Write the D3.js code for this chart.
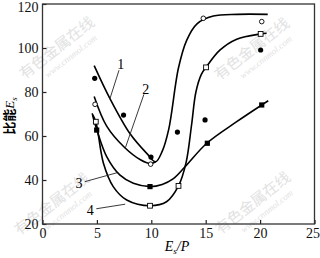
<!DOCTYPE html>
<html lang="zh">
<head>
<meta charset="utf-8">
<script src="https://d3js.org/d3.v7.min.js"></script>
<style>
  body { margin: 0; background: #fff; }
</style>
</head>
<body>
<div id="chart"></div>
<script>
// x / y tick values
const xTicks = [0, 5, 10, 15, 20, 25];
const yTicks = [20, 40, 60, 80, 100, 120];

// fitted curves as [Es/P, specific energy]
const curve1 = [[4.75, 92], [6.2, 77], [8.05, 61], [9.6, 52], [10.4, 48.3], [11.0, 53], [11.6, 63],
                [12.5, 91], [13.25, 103.5], [14.2, 111], [15.7, 114.5], [17.9, 115.3], [20.7, 115.3]];
const curve2 = [[4.75, 78], [5.9, 64.5], [7.5, 55], [9.0, 49.2], [9.9, 47.5], [10.4, 48.3]];
const curve3 = [[4.6, 69.5], [5.0, 62.7], [5.9, 50.6], [7.1, 42.3], [8.35, 38.5], [9.9, 37], [11.0, 38],
                [12.0, 40.5], [13.1, 46], [15.1, 56.7], [17.85, 66.5], [20.15, 74.1], [20.75, 76]];
const curve4 = [[4.55, 70.3], [4.9, 66.5], [5.6, 47.6], [6.5, 37], [7.74, 30.9], [9.9, 28.3], [11.4, 30.1],
                [12.5, 37.3], [13.2, 48], [13.7, 65], [14.1, 80], [14.6, 88], [15.03, 91.2], [16.3, 99],
                [17.85, 104], [20.05, 106.4], [20.6, 106.7]];

// measured points
const filledCircles = [[4.8, 86.2], [7.45, 69.5], [9.97, 50.4], [12.4, 61.8], [14.94, 67.3], [20.05, 99.1]];
const openCircles   = [[4.83, 74.4], [9.94, 47.2], [14.78, 113.5], [20.15, 112]];
const filledSquares = [[4.98, 62.7], [9.88, 37], [15.15, 56.7], [20.15, 74.1]];
const openSquares   = [[4.9, 66.5], [9.88, 28.3], [12.5, 37.3], [15.03, 91.2], [20.05, 106.4]];

// curve labels: [label, label x, label y, leader end x, leader end y] in data units
const curveLabels = [["1", 7.2, 92.5, 6.2, 77], ["2", 9.5, 81.5, 7.6, 54.4],
                     ["3", 3.35, 38.5, 6.85, 43.3], ["4", 4.4, 26.5, 7.6, 29]];

const svgWidth = 320, svgHeight = 258;
const margin = {top: 4, right: 5.5, bottom: 34, left: 42.5};
const width = svgWidth - margin.left - margin.right;
const height = svgHeight - margin.top - margin.bottom;

const svg = d3.select("#chart").append("svg")
    .attr("width", svgWidth)
    .attr("height", svgHeight);

// faint site watermark
const marks = [[60, 52], [255, 53], [55, 208], [256, 207]];
marks.forEach(function (m) {
  const wm = svg.append("g")
      .attr("transform", "translate(" + m[0] + "," + m[1] + ") rotate(-38)")
      .attr("fill", "#e2e2e2");
  wm.append("text").attr("text-anchor", "middle").attr("y", 0)
      .attr("font-family", "Noto Sans CJK SC").attr("font-size", "15px").text("有色金属在线");
  wm.append("text").attr("text-anchor", "middle").attr("x", 6).attr("y", 13)
      .attr("font-family", "Liberation Serif").attr("font-size", "9px").attr("font-style", "italic")
      .text("www.cnnmol.com");
});

const g = svg.append("g").attr("transform", "translate(" + margin.left + "," + margin.top + ")");

const x = d3.scaleLinear().domain([0, 25]).range([0, width]);
const y = d3.scaleLinear().domain([20, 120]).range([height, 0]);

const xAxis = g.append("g")
    .attr("transform", "translate(0," + height + ")")
    .call(d3.axisBottom(x).tickValues(xTicks).tickSizeInner(-4).tickSizeOuter(0).tickPadding(4));
const yAxis = g.append("g")
    .call(d3.axisLeft(y).tickValues(yTicks).tickSizeInner(-4).tickSizeOuter(0).tickPadding(4));

[xAxis, yAxis].forEach(function (a) {
  a.select(".domain").remove();
  a.selectAll("line").attr("stroke", "#222").attr("stroke-width", 1.2);
  a.selectAll("text")
      .attr("font-family", "Liberation Serif")
      .attr("font-size", "14px")
      .attr("fill", "#111");
});
// keep the end labels inside the window
xAxis.selectAll(".tick text").filter(d => d === 25).attr("dx", -2);
yAxis.selectAll(".tick text").filter(d => d === 120).attr("dy", "0.5em");

g.append("rect")
    .attr("x", 0).attr("y", 0)
    .attr("width", width).attr("height", height)
    .attr("fill", "none")
    .attr("stroke", "#333")
    .attr("stroke-width", 1.3);

const line = d3.line()
    .x(d => x(d[0]))
    .y(d => y(d[1]))
    .curve(d3.curveCatmullRom.alpha(0.5));

[curve1, curve2, curve3, curve4].forEach(function (c) {
  g.append("path")
      .datum(c)
      .attr("d", line)
      .attr("fill", "none")
      .attr("stroke", "#000")
      .attr("stroke-width", 1.6);
});

// leader lines and numbers
curveLabels.forEach(function (l) {
  const lx = x(l[1]), ly = y(l[2]);
  const dx = x(l[3]) - lx, dy = y(l[4]) - ly;
  const len = Math.sqrt(dx * dx + dy * dy);
  g.append("line")
      .attr("x1", lx + dx / len * 6).attr("y1", ly + dy / len * 6)
      .attr("x2", x(l[3])).attr("y2", y(l[4]))
      .attr("stroke", "#222").attr("stroke-width", 0.9);
  g.append("text")
      .attr("x", lx).attr("y", ly)
      .attr("dy", "0.35em")
      .attr("text-anchor", "middle")
      .attr("font-family", "Liberation Serif")
      .attr("font-size", "14px")
      .text(l[0]);
});

// markers
g.selectAll(".fc").data(filledCircles).enter().append("circle")
    .attr("cx", d => x(d[0])).attr("cy", d => y(d[1])).attr("r", 2.6)
    .attr("fill", "#000");
g.selectAll(".oc").data(openCircles).enter().append("circle")
    .attr("cx", d => x(d[0])).attr("cy", d => y(d[1])).attr("r", 2.3)
    .attr("fill", "#fff").attr("stroke", "#000").attr("stroke-width", 0.9);
g.selectAll(".fs").data(filledSquares).enter().append("rect")
    .attr("x", d => x(d[0]) - 2.6).attr("y", d => y(d[1]) - 2.6)
    .attr("width", 5.2).attr("height", 5.2)
    .attr("fill", "#000");
g.selectAll(".os").data(openSquares).enter().append("rect")
    .attr("x", d => x(d[0]) - 2.4).attr("y", d => y(d[1]) - 2.4)
    .attr("width", 4.8).attr("height", 4.8)
    .attr("fill", "#fff").attr("stroke", "#000").attr("stroke-width", 0.9);

// axis titles
const xt = svg.append("text")
    .attr("x", 177).attr("y", 251)
    .attr("text-anchor", "middle")
    .attr("font-family", "Liberation Serif")
    .attr("font-size", "14px")
    .attr("font-style", "italic");
xt.append("tspan").text("E");
xt.append("tspan").attr("font-size", "9px").attr("dy", 3).text("s");
xt.append("tspan").attr("dy", -3).text("/P");

const yt = svg.append("text")
    .attr("transform", "translate(14,116) rotate(-90)")
    .attr("text-anchor", "middle")
    .attr("font-size", "13px");
yt.append("tspan").attr("font-family", "Noto Sans CJK SC").attr("font-weight", "bold").text("比能");
yt.append("tspan").attr("font-family", "Liberation Serif").attr("font-style", "italic").text("E");
yt.append("tspan").attr("font-family", "Liberation Serif").attr("font-style", "italic")
    .attr("font-size", "9px").attr("dy", 3).text("s");
</script>
</body>
</html>
